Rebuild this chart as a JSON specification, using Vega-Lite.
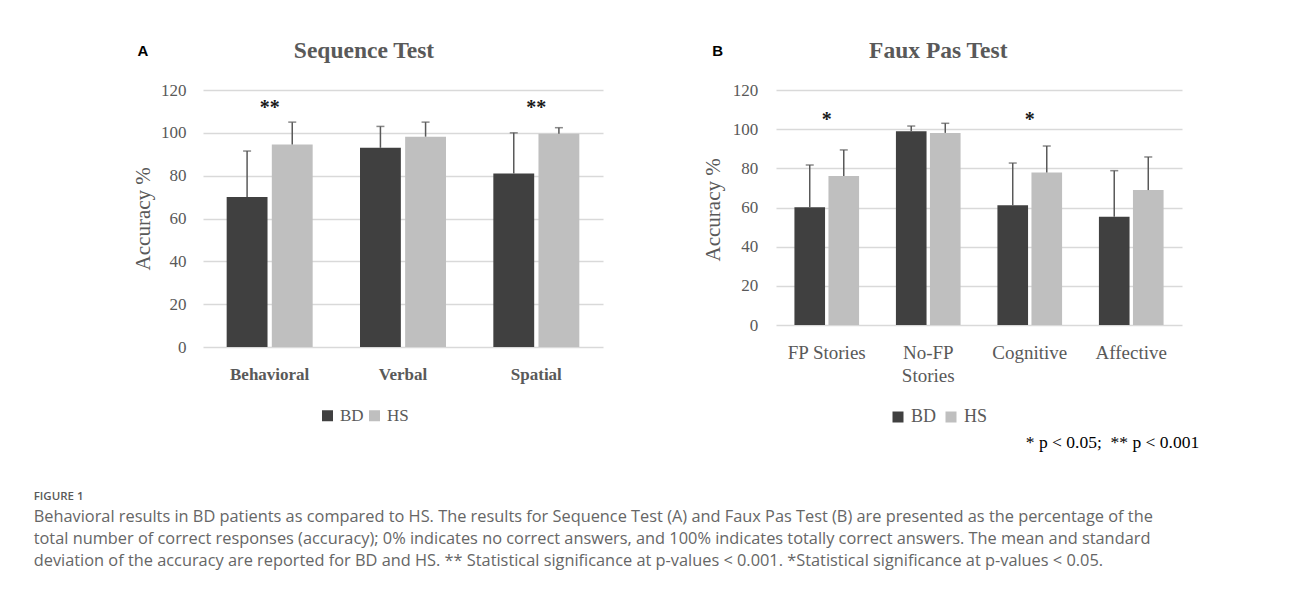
{
  "$schema": "https://vega.github.io/schema/vega-lite/v6.json",
  "background": "white",
  "padding": {"left": 33, "top": 38, "right": 10, "bottom": 5},
  "autosize": {"type": "pad"},
  "config": {"view": {"stroke": null}, "axis": {"tickSize": 0}},
  "datasets": {
    "seq": [
      {"category": "Behavioral", "group": "BD", "mean": 70, "upper": 91.5},
      {"category": "Behavioral", "group": "HS", "mean": 94.5, "upper": 105},
      {"category": "Verbal", "group": "BD", "mean": 93, "upper": 103},
      {"category": "Verbal", "group": "HS", "mean": 98.2, "upper": 105},
      {"category": "Spatial", "group": "BD", "mean": 81, "upper": 100},
      {"category": "Spatial", "group": "HS", "mean": 99.6, "upper": 102.4}
    ],
    "seqSig": [
      {"category": "Behavioral", "label": "**"},
      {"category": "Spatial", "label": "**"}
    ],
    "fp": [
      {"category": "FP Stories", "group": "BD", "mean": 60.1, "upper": 81.7},
      {"category": "FP Stories", "group": "HS", "mean": 76.1, "upper": 89.4},
      {"category": "No-FP Stories", "group": "BD", "mean": 98.9, "upper": 101.6},
      {"category": "No-FP Stories", "group": "HS", "mean": 98.1, "upper": 103},
      {"category": "Cognitive", "group": "BD", "mean": 61.1, "upper": 82.7},
      {"category": "Cognitive", "group": "HS", "mean": 77.9, "upper": 91.4},
      {"category": "Affective", "group": "BD", "mean": 55.3, "upper": 78.8},
      {"category": "Affective", "group": "HS", "mean": 68.9, "upper": 85.8}
    ],
    "fpSig": [
      {"category": "FP Stories", "label": "*"},
      {"category": "Cognitive", "label": "*"}
    ]
  },
  "spacing": 173,
  "bounds": "flush",
  "resolve": {
    "scale": {"x": "independent", "y": "independent", "xOffset": "independent", "color": "independent"},
    "legend": {"color": "independent"}
  },
  "title": {
    "text": "FIGURE 1",
    "subtitle": [
      "Behavioral results in BD patients as compared to HS. The results for Sequence Test (A) and Faux Pas Test (B) are presented as the percentage of the",
      "total number of correct responses (accuracy); 0% indicates no correct answers, and 100% indicates totally correct answers. The mean and standard",
      "deviation of the accuracy are reported for BD and HS. ** Statistical significance at p-values < 0.001. *Statistical significance at p-values < 0.05."
    ],
    "orient": "bottom",
    "anchor": "start",
    "frame": "bounds",
    "dx": -99,
    "offset": 40,
    "baseline": "top",
    "font": "Open Sans",
    "fontSize": 11.5,
    "fontWeight": 600,
    "color": "#595959",
    "subtitleFont": "Open Sans",
    "subtitleFontSize": 16.35,
    "subtitleColor": "#666666",
    "subtitleLineHeight": 22,
    "subtitlePadding": 6
  },
  "hconcat": [
    {
      "width": 400,
      "height": 257,
      "title": {"text": "Sequence Test", "anchor": "middle", "frame": "group", "dx": -39, "dy": 20, "offset": -18, "baseline": "alphabetic", "font": "Liberation Serif", "fontSize": 23.5, "fontWeight": "bold", "color": "#595959"},
      "resolve": {"axis": {"x": "independent"}},
      "layer": [
        {
          "data": {"name": "seq"},
          "mark": {"type": "bar"},
          "encoding": {
            "x": {
              "field": "category", "type": "nominal",
              "scale": {"domain": ["Behavioral", "Verbal", "Spatial"], "paddingInner": 0.355, "paddingOuter": 0.1775},
              "axis": {"orient": "bottom", "title": null, "domain": false, "ticks": false, "grid": false, "labelAngle": 0, "labelFont": "Liberation Serif", "labelFontSize": 17, "labelFontWeight": "bold", "labelColor": "#595959", "labelPadding": 32.7, "labelBaseline": "alphabetic"}
            },
            "xOffset": {"field": "group", "type": "nominal", "scale": {"domain": ["BD", "HS"], "paddingInner": 0.095, "paddingOuter": 0}},
            "y": {
              "field": "mean", "type": "quantitative",
              "scale": {"domain": [0, 120], "nice": false},
              "axis": {"values": [0, 20, 40, 60, 80, 100, 120], "tickCount": 7, "labelOverlap": false, "domain": false, "ticks": false, "grid": true, "gridColor": "#d9d9d9", "gridWidth": 1.5, "labelFont": "Liberation Serif", "labelFontSize": 17, "labelColor": "#595959", "labelPadding": 17, "title": "Accuracy %", "titleFont": "Liberation Serif", "titleFontSize": 21, "titleFontWeight": "normal", "titleColor": "#595959", "titleX": -53.3, "titleY": 128.3, "titleAngle": -90, "titleBaseline": "alphabetic", "titleAlign": "center"}
            },
            "color": {
              "field": "group", "type": "nominal",
              "scale": {"domain": ["BD", "HS"], "range": ["#404040", "#bfbfbf"]},
              "legend": {"orient": "none", "legendX": 116, "legendY": 317, "direction": "horizontal", "title": null, "symbolType": "square", "symbolSize": 121, "symbolStrokeWidth": 0, "labelFont": "Liberation Serif", "labelFontSize": 17, "labelColor": "#595959", "labelOffset": 4, "columnPadding": 2, "padding": 0}
            }
          }
        },
        {
          "data": {"name": "seq"},
          "mark": {"type": "rule", "color": "#595959", "strokeWidth": 1.5},
          "encoding": {
            "x": {"field": "category", "type": "nominal", "axis": null},
            "xOffset": {"field": "group", "type": "nominal"},
            "y": {"field": "mean", "type": "quantitative"},
            "y2": {"field": "upper"}
          }
        },
        {
          "data": {"name": "seq"},
          "mark": {"type": "tick", "color": "#595959", "thickness": 1.5, "size": 8, "orient": "horizontal"},
          "encoding": {
            "x": {"field": "category", "type": "nominal", "axis": null},
            "xOffset": {"field": "group", "type": "nominal"},
            "y": {"field": "upper", "type": "quantitative"}
          }
        },
        {
          "data": {"name": "seqSig"},
          "mark": {"type": "text", "font": "Liberation Serif", "fontSize": 20, "fontWeight": "bold", "color": "#1a1a1a", "baseline": "alphabetic"},
          "encoding": {
            "x": {"field": "category", "type": "nominal", "axis": {"orient": "top", "labels": false, "ticks": false, "domain": false, "grid": false, "title": "A", "titleX": -66, "titleY": -35, "titleAngle": 0, "titleAlign": "left", "titleBaseline": "alphabetic", "titleFont": "Liberation Sans", "titleFontSize": 15, "titleFontWeight": "bold", "titleColor": "#000000"}},
            "y": {"datum": 109, "type": "quantitative"},
            "text": {"field": "label"}
          }
        }
      ]
    },
    {
      "width": 406,
      "height": 235,
      "title": {"text": "Faux Pas Test", "anchor": "middle", "frame": "group", "dx": -40.7, "dy": 20, "offset": -18, "baseline": "alphabetic", "font": "Liberation Serif", "fontSize": 23.5, "fontWeight": "bold", "color": "#595959"},
      "resolve": {"axis": {"x": "independent"}},
      "layer": [
        {
          "data": {"name": "fp"},
          "mark": {"type": "bar"},
          "encoding": {
            "x": {
              "field": "category", "type": "nominal",
              "scale": {"domain": ["FP Stories", "No-FP Stories", "Cognitive", "Affective"], "paddingInner": 0.363, "paddingOuter": 0.1815},
              "axis": {"orient": "bottom", "domain": false, "ticks": false, "grid": false, "labelAngle": 0, "labelFont": "Liberation Serif", "labelFontSize": 19, "labelFontWeight": "normal", "labelColor": "#595959", "labelPadding": 33, "labelBaseline": "alphabetic", "labelLineHeight": 23.5, "labelExpr": "datum.value == 'No-FP Stories' ? ['No-FP', 'Stories'] : datum.value", "title": "* p < 0.05;\u00a0 ** p < 0.001", "titleX": 249.3, "titleY": 122.7, "titleAlign": "left", "titleAnchor": "start", "titleBaseline": "alphabetic", "titleFont": "Liberation Serif", "titleFontSize": 17.5, "titleFontWeight": "normal", "titleColor": "#000000"}
            },
            "xOffset": {"field": "group", "type": "nominal", "scale": {"domain": ["BD", "HS"], "paddingInner": 0.1, "paddingOuter": 0}},
            "y": {
              "field": "mean", "type": "quantitative",
              "scale": {"domain": [0, 120], "nice": false},
              "axis": {"values": [0, 20, 40, 60, 80, 100, 120], "tickCount": 7, "labelOverlap": false, "domain": false, "ticks": false, "grid": true, "gridColor": "#d9d9d9", "gridWidth": 1.5, "labelFont": "Liberation Serif", "labelFontSize": 17, "labelColor": "#595959", "labelPadding": 18.3, "title": "Accuracy %", "titleFont": "Liberation Serif", "titleFontSize": 21, "titleFontWeight": "normal", "titleColor": "#595959", "titleX": -56.5, "titleY": 119.4, "titleAngle": -90, "titleBaseline": "alphabetic", "titleAlign": "center"}
            },
            "color": {
              "field": "group", "type": "nominal",
              "scale": {"domain": ["BD", "HS"], "range": ["#404040", "#bfbfbf"]},
              "legend": {"orient": "none", "legendX": 113, "legendY": 318, "direction": "horizontal", "title": null, "symbolType": "square", "symbolSize": 121, "symbolStrokeWidth": 0, "labelFont": "Liberation Serif", "labelFontSize": 18, "labelColor": "#595959", "labelOffset": 4, "columnPadding": 5, "padding": 0}
            }
          }
        },
        {
          "data": {"name": "fp"},
          "mark": {"type": "rule", "color": "#595959", "strokeWidth": 1.5},
          "encoding": {
            "x": {"field": "category", "type": "nominal", "axis": null},
            "xOffset": {"field": "group", "type": "nominal"},
            "y": {"field": "mean", "type": "quantitative"},
            "y2": {"field": "upper"}
          }
        },
        {
          "data": {"name": "fp"},
          "mark": {"type": "tick", "color": "#595959", "thickness": 1.5, "size": 8, "orient": "horizontal"},
          "encoding": {
            "x": {"field": "category", "type": "nominal", "axis": null},
            "xOffset": {"field": "group", "type": "nominal"},
            "y": {"field": "upper", "type": "quantitative"}
          }
        },
        {
          "data": {"name": "fpSig"},
          "mark": {"type": "text", "font": "Liberation Serif", "fontSize": 20, "fontWeight": "bold", "color": "#1a1a1a", "baseline": "alphabetic"},
          "encoding": {
            "x": {"field": "category", "type": "nominal", "axis": {"orient": "top", "labels": false, "ticks": false, "domain": false, "grid": false, "title": "B", "titleX": -64.3, "titleY": -35, "titleAngle": 0, "titleAlign": "left", "titleBaseline": "alphabetic", "titleFont": "Liberation Sans", "titleFontSize": 15, "titleFontWeight": "bold", "titleColor": "#000000"}},
            "y": {"datum": 101.5, "type": "quantitative"},
            "text": {"field": "label"}
          }
        }
      ]
    }
  ]
}
